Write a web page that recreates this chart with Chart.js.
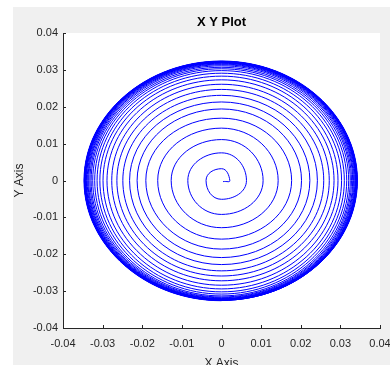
<!DOCTYPE html>
<html>
<head>
<meta charset="utf-8">
<script src="https://cdn.jsdelivr.net/npm/chart.js@4.4.1/dist/chart.umd.min.js"></script>
<style>
  html, body { margin: 0; padding: 0; background: #fff; }
  #caja { width: 390px; height: 365px; }
</style>
</head>
<body>
<div id="caja"><canvas id="xy_grafica" width="390" height="365"></canvas></div>
<script>
// valores: cruces de la espiral con los ejes, vuelta a vuelta
const inicio = [0.0004, -0.0003];
const cruceDerecha = [0.0021, 0.0063, 0.0105, 0.0143, 0.0177, 0.0202, 0.0223, 0.0242, 0.0258, 0.0272, 0.0284, 0.0294, 0.0303,
  0.0310, 0.0316, 0.0321, 0.0325, 0.0328, 0.0331, 0.0333, 0.0335, 0.0337, 0.0338, 0.0339, 0.0340, 0.0341, 0.0341, 0.0342, 0.0342,
  0.0342, 0.0343];
const cruceArriba = [0.0032, 0.0075, 0.0111, 0.0142, 0.0169, 0.0194, 0.0213, 0.0231, 0.0247, 0.0261, 0.0273, 0.0283, 0.0291,
  0.0298, 0.0303, 0.0307, 0.0311, 0.0314, 0.0316, 0.0318, 0.0319, 0.0320, 0.0321, 0.0321, 0.0322, 0.0322, 0.0322, 0.0323, 0.0323,
  0.0323, 0.0324];
const cruceIzquierda = [0.0039, 0.0085, 0.0127, 0.0161, 0.0191, 0.0213, 0.0232, 0.0249, 0.0264, 0.0277, 0.0289, 0.0299, 0.0307,
  0.0314, 0.0320, 0.0325, 0.0329, 0.0332, 0.0335, 0.0337, 0.0339, 0.0341, 0.0342, 0.0343, 0.0344, 0.0345, 0.0345, 0.0346, 0.0346,
  0.0346, 0.0347];
const cruceAbajo = [0.0051, 0.0092, 0.0128, 0.0159, 0.0186, 0.0209, 0.0228, 0.0245, 0.0259, 0.0272, 0.0284, 0.0294, 0.0302,
  0.0308, 0.0313, 0.0316, 0.0318, 0.0320, 0.0321, 0.0322, 0.0322, 0.0323, 0.0323, 0.0323, 0.0324, 0.0324, 0.0324, 0.0325, 0.0325,
  0.0325, 0.0326];
const fin = [0.0343, 0];

const ticksX = [-0.04, -0.03, -0.02, -0.01, 0, 0.01, 0.02, 0.03, 0.04];
const ticksY = [-0.04, -0.03, -0.02, -0.01, 0, 0.01, 0.02, 0.03, 0.04];
const etiquetas = ['-0.04', '-0.03', '-0.02', '-0.01', '0', '0.01', '0.02', '0.03', '0.04'];

(function(){
  const ctx = document.getElementById('xy_grafica');

  // puntos en orden: derecha, arriba, izquierda, abajo en cada vuelta
  const puntos = [{ x: inicio[0], y: inicio[1] }];
  cruceDerecha.forEach((r, i) => {
    puntos.push({ x: r, y: 0 });
    puntos.push({ x: 0, y: cruceArriba[i] });
    puntos.push({ x: -cruceIzquierda[i], y: 0 });
    puntos.push({ x: 0, y: -cruceAbajo[i] });
  });
  // el ultimo punto solo fija la tangente; ese tramo no se pinta
  puntos.push({ x: fin[0], y: fin[1] });
  const ultimo = puntos.length - 1;

  const fuente = "'Liberation Sans', Arial, Helvetica, sans-serif";
  const gris = '#262626';

  const etiqueta = (lista) => (v) => {
    const i = lista.findIndex(t => Math.abs(t - v) < 1e-9);
    return i >= 0 ? etiquetas[i] : '';
  };

  const fondo = {
    id: 'fondo',
    beforeDraw(chart){
      const c = chart.ctx, a = chart.chartArea;
      c.save();
      c.fillStyle = '#ffffff';
      c.fillRect(0, 0, chart.width, chart.height);
      c.fillStyle = '#f0f0f0';
      c.fillRect(13, 7, chart.width - 13, chart.height - 7);
      c.fillStyle = '#ffffff';
      c.fillRect(a.left, a.top, a.right - a.left, a.bottom - a.top);
      c.fillStyle = '#000000';
      c.font = 'bold 13px ' + fuente;
      c.textAlign = 'center';
      c.textBaseline = 'middle';
      c.fillText('X Y Plot', (a.left + a.right) / 2, 22);
      c.restore();
    }
  };

  // marcas hacia dentro, como en el original
  const marcas = {
    id: 'marcas',
    afterDraw(chart){
      const c = chart.ctx, a = chart.chartArea;
      const sx = chart.scales.x, sy = chart.scales.y;
      c.save();
      c.strokeStyle = gris;
      c.lineWidth = 1;
      c.beginPath();
      ticksX.forEach(t => {
        const px = Math.round(sx.getPixelForValue(t)) + 0.5;
        c.moveTo(px, a.bottom);
        c.lineTo(px, a.bottom - 3);
      });
      ticksY.forEach(t => {
        const py = Math.round(sy.getPixelForValue(t)) + 0.5;
        c.moveTo(a.left, py);
        c.lineTo(a.left + 3, py);
      });
      c.stroke();
      c.restore();
    }
  };

  new Chart(ctx, {
    type: 'scatter',
    data: {
      datasets: [{
        label: 'XY',
        data: puntos,
        showLine: true,
        borderColor: '#0000ff',
        backgroundColor: '#0000ff',
        borderWidth: 1,
        pointRadius: 0,
        tension: 0.55,
        fill: false,
        segment: {
          borderColor: (s) => s.p1DataIndex === ultimo ? 'rgba(0,0,0,0)' : undefined
        }
      }]
    },
    options: {
      responsive: false,
      animation: false,
      devicePixelRatio: 1,
      layout: { padding: { top: 33, right: 10, left: 0, bottom: 0 }, autoPadding: false },
      plugins: {
        legend: { display: false },
        tooltip: { enabled: false },
        title: { display: false }
      },
      scales: {
        x: {
          type: 'linear',
          min: -0.04,
          max: 0.04,
          afterBuildTicks: (s) => { s.ticks = ticksX.map(v => ({ value: v })); },
          afterFit: (s) => { s.height = 37; s.paddingLeft = 0; s.paddingRight = 0; },
          grid: { display: true, drawOnChartArea: false, drawTicks: false },
          border: { display: true, color: gris, width: 1 },
          ticks: {
            color: gris,
            font: { family: fuente, size: 11 },
            padding: 9,
            maxRotation: 0,
            autoSkip: false,
            callback: etiqueta(ticksX)
          },
          title: {
            display: true,
            text: 'X Axis',
            color: gris,
            font: { family: fuente, size: 12, lineHeight: 1 },
            padding: { top: 0, bottom: -5 }
          }
        },
        y: {
          type: 'linear',
          min: -0.04,
          max: 0.04,
          afterBuildTicks: (s) => { s.ticks = ticksY.map(v => ({ value: v })); },
          afterFit: (s) => { s.width = 63; s.paddingTop = 0; s.paddingBottom = 0; },
          grid: { display: true, drawOnChartArea: false, drawTicks: false },
          border: { display: true, color: gris, width: 1 },
          ticks: {
            color: gris,
            font: { family: fuente, size: 11 },
            padding: 5,
            autoSkip: false,
            callback: etiqueta(ticksY)
          },
          title: {
            display: true,
            text: 'Y Axis',
            color: gris,
            font: { family: fuente, size: 12, lineHeight: 1.2 },
            padding: { top: 12.8, bottom: 0 }
          }
        }
      }
    },
    plugins: [fondo, marcas]
  });
})();
</script>
</body>
</html>
